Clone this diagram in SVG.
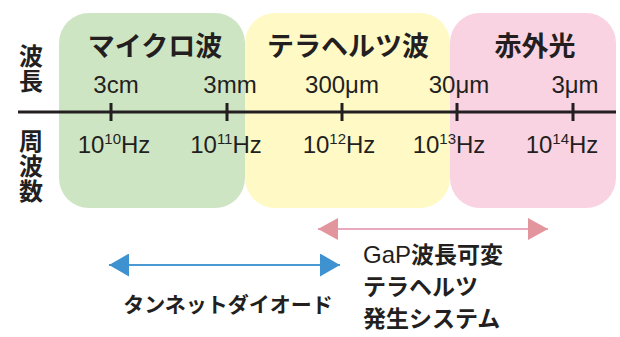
<svg xmlns="http://www.w3.org/2000/svg" width="620" height="337" viewBox="0 0 620 337">
<style>
.lat{font-family:"Liberation Sans",Arial,sans-serif;font-size:24px;fill:#231f20;text-anchor:middle}
.sup{font-size:15px}
.jp{font-family:"Noto Sans CJK JP","Noto Sans",sans-serif;font-weight:bold;fill:#231f20}
.title{font-size:27px;text-anchor:middle}
.side{font-size:24px;writing-mode:vertical-rl;letter-spacing:1px}
.lbl{font-size:21px}
.lbl2{font-size:23px}
.tick{stroke:#231f20;stroke-width:3}
</style>
<defs>
<marker id="pk" viewBox="0 0 20 22" refX="20" refY="11" markerWidth="20" markerHeight="22" markerUnits="userSpaceOnUse" orient="auto-start-reverse"><path d="M0,0 L20,11 L0,22 Z" fill="#e2959c"/></marker>
<marker id="bl" viewBox="0 0 20 23" refX="20" refY="11.5" markerWidth="20" markerHeight="23" markerUnits="userSpaceOnUse" orient="auto-start-reverse"><path d="M0,0 L20,11.5 L0,23 Z" fill="#3f92d0"/></marker>
</defs>
<g id="microwave">
<rect x="59" y="13" width="186" height="195" rx="30" fill="#cee5c4"/>
<text class="jp title" x="155" y="56">マイクロ波</text>
</g>
<g id="terahertz">
<rect x="245" y="13" width="205" height="195" rx="30" fill="#fff9c6"/>
<text class="jp title" x="348" y="56">テラヘルツ波</text>
</g>
<g id="infrared">
<rect x="450" y="13" width="166" height="195" rx="30" fill="#f9d3e2"/>
<text class="jp title" x="535" y="56">赤外光</text>
</g>
<g id="axis">
<line x1="18" y1="112" x2="616" y2="112" class="tick"/>
<line x1="111" y1="103" x2="111" y2="121" class="tick"/>
<line x1="227" y1="103" x2="227" y2="121" class="tick"/>
<line x1="342" y1="103" x2="342" y2="121" class="tick"/>
<line x1="457" y1="103" x2="457" y2="121" class="tick"/>
<line x1="573" y1="103" x2="573" y2="121" class="tick"/>
<text class="jp side" x="31" y="44">波長</text>
<text class="jp side" x="31" y="129">周波数</text>
<text class="lat" x="116" y="93">3cm</text>
<text class="lat" x="230" y="93">3mm</text>
<text class="lat" x="342" y="93">300μm</text>
<text class="lat" x="459" y="93">30μm</text>
<text class="lat" x="575" y="93">3μm</text>
<text class="lat" x="114" y="153">10<tspan class="sup" dy="-9">10</tspan><tspan dy="9">Hz</tspan></text>
<text class="lat" x="226" y="153">10<tspan class="sup" dy="-9">11</tspan><tspan dy="9">Hz</tspan></text>
<text class="lat" x="339" y="153">10<tspan class="sup" dy="-9">12</tspan><tspan dy="9">Hz</tspan></text>
<text class="lat" x="449" y="153">10<tspan class="sup" dy="-9">13</tspan><tspan dy="9">Hz</tspan></text>
<text class="lat" x="562" y="153">10<tspan class="sup" dy="-9">14</tspan><tspan dy="9">Hz</tspan></text>
</g>
<g id="connectors">
<line x1="318" y1="229" x2="548" y2="229" stroke="#e8a9bd" stroke-width="2" marker-start="url(#pk)" marker-end="url(#pk)"/>
<line x1="109" y1="265" x2="340" y2="265" stroke="#4a98d4" stroke-width="2" marker-start="url(#bl)" marker-end="url(#bl)"/>
</g>
<g id="tunnett">
<text class="jp lbl" x="228" y="312" text-anchor="middle">タンネットダイオード</text>
</g>
<g id="gap">
<text class="jp lbl2" x="363" y="263"><tspan font-family="Liberation Sans,Arial,sans-serif" font-weight="normal" font-size="24">GaP</tspan>波長可変</text>
<text class="jp lbl2" x="363" y="295">テラヘルツ</text>
<text class="jp lbl2" x="363" y="327">発生システム</text>
</g>
</svg>
